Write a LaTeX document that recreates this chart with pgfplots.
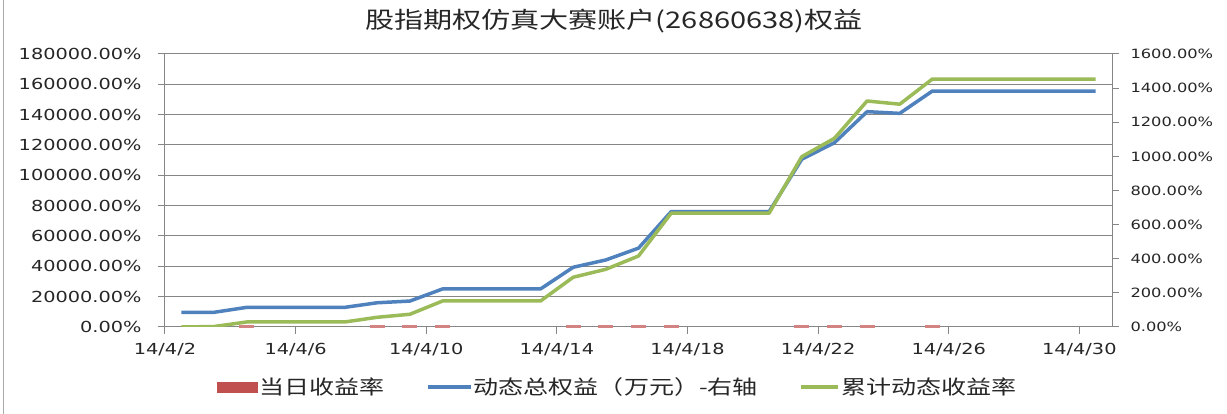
\documentclass[border=0pt]{standalone}
\usepackage{pgfplots}
\pgfplotsset{compat=1.18}
\usepackage{pgfplotstable}
\usepackage{fontspec}
\setmainfont{DejaVu Sans}[FakeStretch=1.27]
\newfontfamily\cjk{Noto Sans CJK SC}[FakeStretch=1.27]

\definecolor{xlred}{HTML}{C0504D}
\definecolor{xlblue}{HTML}{4F81BD}
\definecolor{xlgreen}{HTML}{9BBB59}
\definecolor{xlgrid}{HTML}{868686}

% day: days after 2014-04-02; cum: cumulative dynamic return (%); equity: dynamic total equity (right axis)
\pgfplotstableread{
day cum equity
0 0 86
1 300 86
2 3300 115
3 3300 115
4 3300 115
5 3300 115
6 6400 142
7 8400 152
8 17150 223
9 17150 223
10 17150 223
11 17150 223
12 32800 350
13 38050 393
14 46800 462
15 75000 676
16 75000 676
17 75000 676
18 75000 676
19 112300 983
20 124400 1080
21 149000 1262
22 146900 1252
23 163500 1383
24 163500 1383
25 163500 1383
26 163500 1383
27 163500 1383
28 163500 1383
}\series

% daily return (%) on the days it rose
\pgfplotstableread{
day ret
2 34
6 23
7 7
8 47
12 57
13 12
14 18
15 46
19 45
20 10
21 17
23 10
}\daily

\pgfplotsset{
  base/.style={
    at={(165pt,87pt)}, anchor=south west,
    scale only axis, width=947pt, height=273pt,
    xmin=0, xmax=29,
    scaled y ticks=false,
    axis line style={xlgrid, line width=1pt, -},
    tick style={xlgrid, line width=1pt},
    major tick length=7pt, tick align=outside,
    ticklabel style={font=\fontsize{15.2pt}{18pt}\selectfont, text=black!85},
  }
}

\begin{document}
\begin{tikzpicture}
\path[use as bounding box] (0pt,0pt) rectangle (1227pt,414pt);
\draw[xlgrid!70, line width=1pt] (3pt,0pt) -- (3pt,414pt);

\node[font=\cjk\fontsize{22.9pt}{26pt}\selectfont, text=black!85] at (614pt,393pt)
  {股指期权仿真大赛账户(26860638)权益};

% primary axis: grid, dates, daily return bars
\begin{axis}[base,
  ymin=0, ymax=180000, clip=false,
  axis x line*=bottom, axis y line*=left,
  xtick pos=bottom, ytick pos=left,
  xtick={0,4,...,28},
  xticklabels={14/4/2,14/4/6,14/4/10,14/4/14,14/4/18,14/4/22,14/4/26,14/4/30},
  xticklabel style={yshift=-6pt},
  ytick={0,20000,...,180000},
  yticklabels={0.00\%,20000.00\%,40000.00\%,60000.00\%,80000.00\%,100000.00\%,120000.00\%,140000.00\%,160000.00\%,180000.00\%},
  yticklabel style={xshift=-13pt},
  ymajorgrids, grid style={xlgrid, line width=1pt},
]
\addplot[ybar, bar width=12pt, fill=xlred, draw=xlred!70, line width=3pt, bar shift=0pt]
  table[x expr=\thisrow{day}+0.5, y=ret] {\daily};
\end{axis}

% secondary axis: dynamic total equity
\begin{axis}[base,
  ymin=0, ymax=1600,
  axis x line=none, axis y line*=right, ytick pos=right,
  ytick={0,200,...,1600},
  yticklabels={0.00\%,200.00\%,400.00\%,600.00\%,800.00\%,1000.00\%,1200.00\%,1400.00\%,1600.00\%},
  yticklabel style={font=\fontsize{12.8pt}{15pt}\selectfont, xshift=8pt},
]
\addplot[xlblue, line width=3.5pt, line join=round]
  table[x expr=\thisrow{day}+0.5, y=equity] {\series};
\end{axis}

% cumulative return on the primary scale, with the legend
\begin{axis}[base,
  ymin=0, ymax=180000, hide axis,
  legend columns=3,
  legend style={at={(0.478,-0.22)}, anchor=center, draw=none, fill=none,
    font=\cjk\fontsize{19.7pt}{22pt}\selectfont, text=black!85,
    /tikz/every even column/.append style={column sep=40pt},
    nodes={inner sep=1.5pt}},
]
\addlegendimage{legend image code/.code={\fill[xlred] (0pt,-5pt) rectangle (40pt,5pt);}}
\addlegendentry{当日收益率}
\addlegendimage{legend image code/.code={\draw[xlblue, line width=3.5pt] (0pt,0pt) -- (43pt,0pt);}}
\addlegendentry{动态总权益（万元）-右轴}
\addlegendimage{legend image code/.code={\draw[xlgreen, line width=3.5pt] (0pt,0pt) -- (37pt,0pt);}}
\addlegendentry{累计动态收益率}
\addplot[xlgreen, line width=3.5pt, line join=round, forget plot]
  table[x expr=\thisrow{day}+0.5, y=cum] {\series};
\end{axis}
\end{tikzpicture}
\end{document}
